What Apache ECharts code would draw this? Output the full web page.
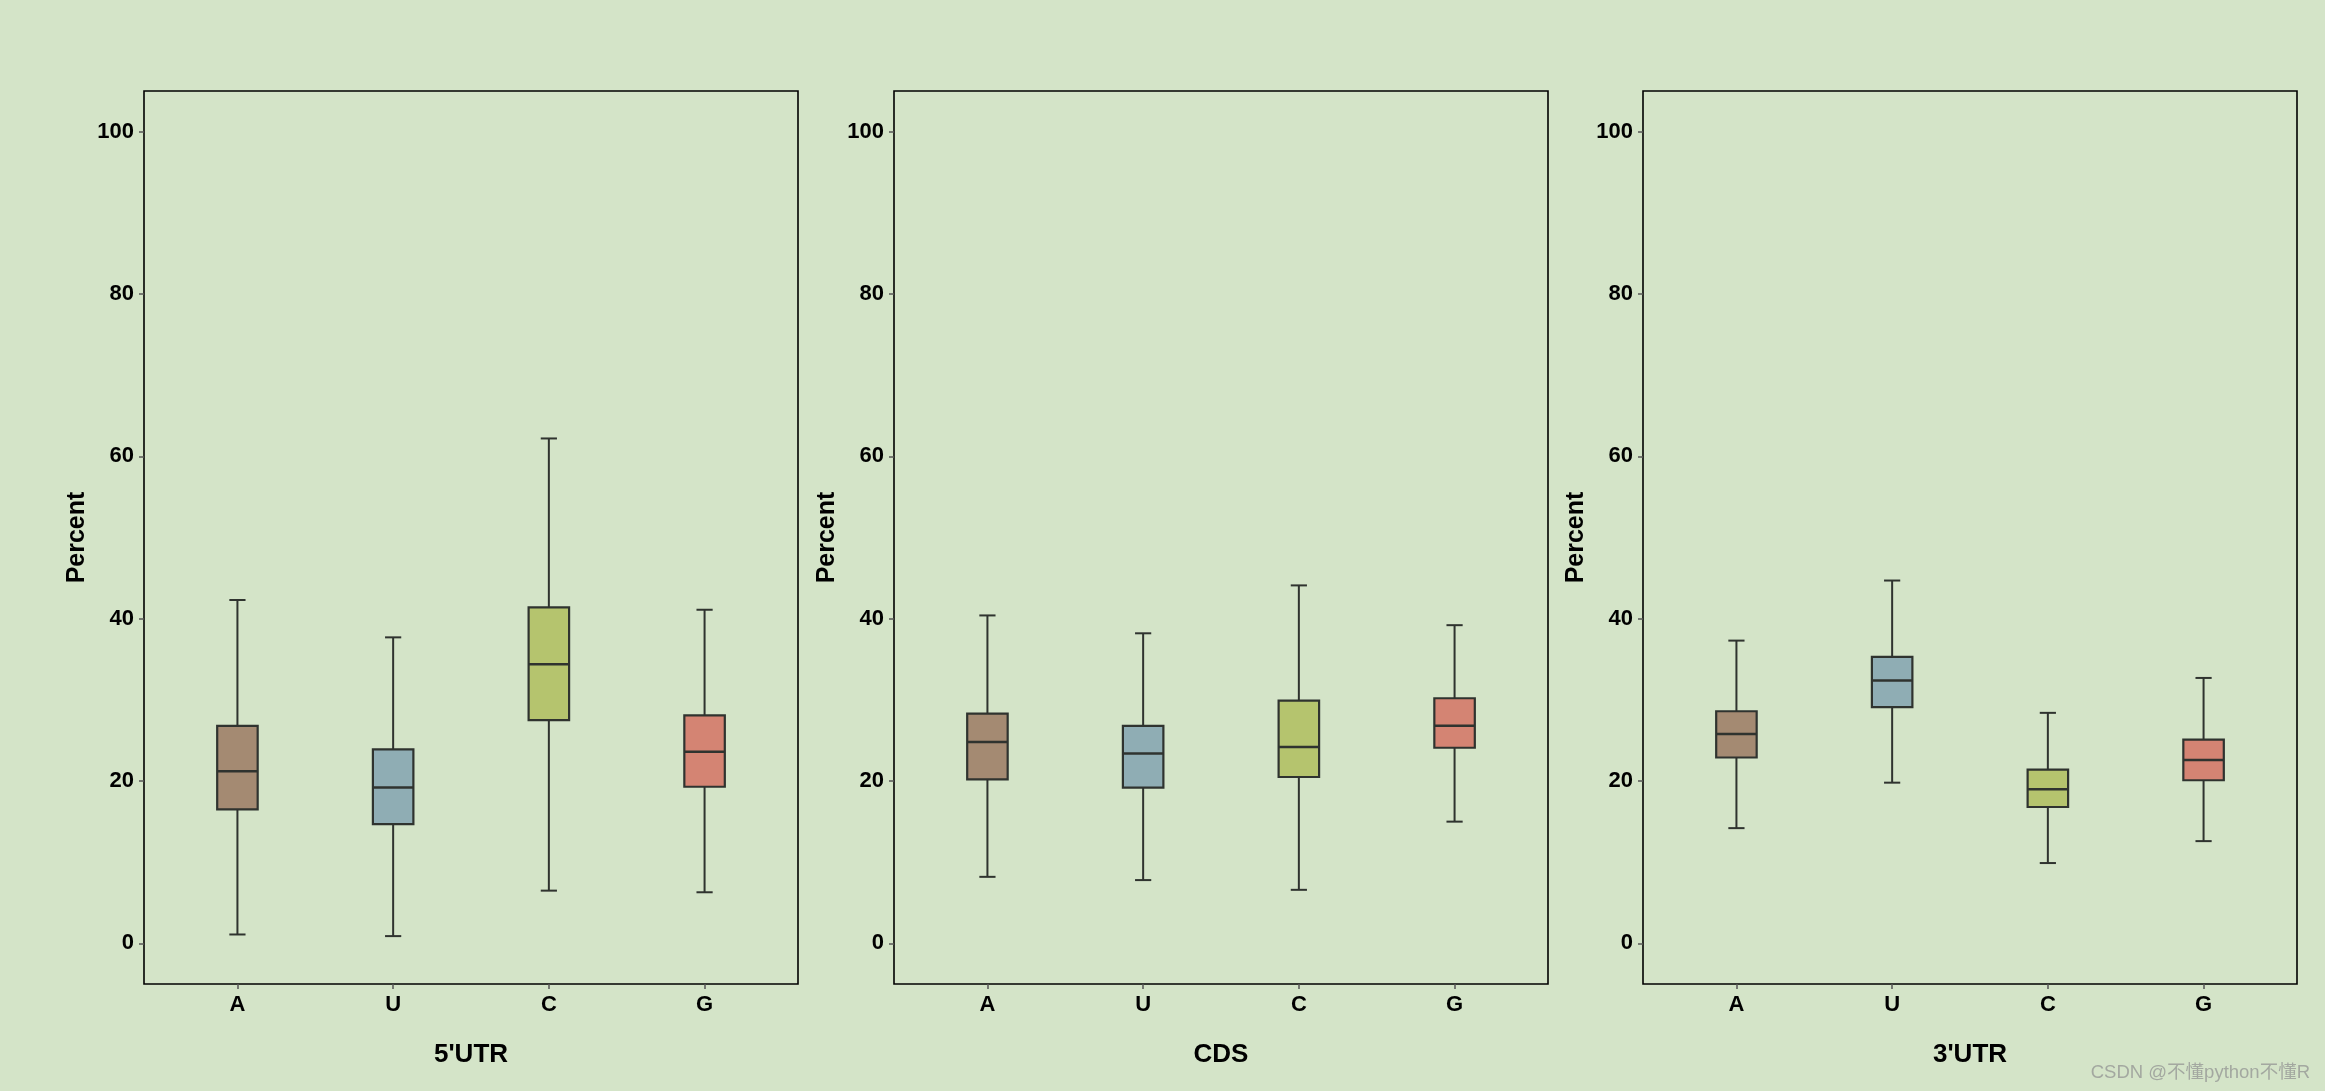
<!DOCTYPE html>
<html>
<head>
<meta charset="utf-8">
<script src="https://cdn.jsdelivr.net/npm/echarts@6/dist/echarts.min.js"></script>
<style>
html,body{margin:0;padding:0;background:#d4e4c8;}
#chart{width:2325px;height:1091px;}
</style>
</head>
<body>
<div id="chart"></div>
<script>
// categories and panels
const categories = ['A', 'U', 'C', 'G'];
const panels = ["5'UTR", 'CDS', "3'UTR"];
const yTicks = [0, 20, 40, 60, 80, 100];
// box statistics per category: [min, Q1, median, Q3, max]
const utr5Stats = [
  [1.1, 16.5, 21.2, 26.8, 42.3],
  [0.9, 14.7, 19.2, 23.9, 37.7],
  [6.5, 27.5, 34.4, 41.4, 62.2],
  [6.3, 19.3, 23.6, 28.1, 41.1]
];
const cdsStats = [
  [8.2, 20.2, 24.8, 28.3, 40.4],
  [7.8, 19.2, 23.4, 26.8, 38.2],
  [6.6, 20.5, 24.2, 29.9, 44.1],
  [15.0, 24.1, 26.8, 30.2, 39.2]
];
const utr3Stats = [
  [14.2, 22.9, 25.8, 28.6, 37.3],
  [19.8, 29.1, 32.4, 35.3, 44.7],
  [9.9, 16.8, 19.0, 21.4, 28.4],
  [12.6, 20.1, 22.6, 25.1, 32.7]
];
const allStats = [utr5Stats, cdsStats, utr3Stats];
const boxColors = ['#a48a72', '#8fadb4', '#b5c46e', '#d48473'];

const chart = echarts.init(document.getElementById('chart'));
const lefts = [144, 894, 1643];
const plotW = 654;
const lineCol = '#2f332f';
const BOX_HALF = 0.13, CAP_HALF = 0.052;

function renderBox(params, api) {
  const x = api.value(0);
  const mn = api.value(1), q1 = api.value(2), md = api.value(3), q3 = api.value(4), mx = api.value(5);
  const pL = api.coord([x - BOX_HALF, q3]);
  const pR = api.coord([x + BOX_HALF, q1]);
  const c = api.coord([x, md]);
  const pMin = api.coord([x, mn]);
  const pMax = api.coord([x, mx]);
  const pQ1 = api.coord([x, q1]);
  const pQ3 = api.coord([x, q3]);
  const capL = api.coord([x - CAP_HALF, mn])[0];
  const capR = api.coord([x + CAP_HALF, mn])[0];
  const ls = {stroke: lineCol, lineWidth: 2};
  return {
    type: 'group',
    children: [
      {type: 'line', shape: {x1: c[0], y1: pMax[1], x2: c[0], y2: pQ3[1]}, style: ls},
      {type: 'line', shape: {x1: c[0], y1: pQ1[1], x2: c[0], y2: pMin[1]}, style: ls},
      {type: 'line', shape: {x1: capL, y1: pMax[1], x2: capR, y2: pMax[1]}, style: ls},
      {type: 'line', shape: {x1: capL, y1: pMin[1], x2: capR, y2: pMin[1]}, style: ls},
      {type: 'rect', shape: {x: pL[0], y: pL[1], width: pR[0] - pL[0], height: pR[1] - pL[1]},
        style: {fill: boxColors[params.dataIndex], stroke: lineCol, lineWidth: 2.2}},
      {type: 'line', shape: {x1: pL[0], y1: c[1], x2: pR[0], y2: c[1]}, style: {stroke: lineCol, lineWidth: 2.5}}
    ]
  };
}

const grids = [], xAxes = [], yAxes = [], series = [];
panels.forEach((name, i) => {
  grids.push({left: lefts[i], width: plotW, top: 91, bottom: 107, show: true,
    borderColor: '#000', borderWidth: 1.6, backgroundColor: 'transparent'});
  xAxes.push({
    type: 'value', gridIndex: i, min: 0.4, max: 4.6,
    name: name, nameLocation: 'middle', nameGap: 58,
    nameTextStyle: {fontFamily: 'Liberation Sans', fontWeight: 'bold', fontSize: 26, color: '#000'},
    axisLine: {show: false, onZero: false},
    splitLine: {show: false},
    axisTick: {show: true, length: 5, lineStyle: {color: '#555', width: 1.5}, customValues: [1, 2, 3, 4]},
    axisLabel: {customValues: [1, 2, 3, 4], formatter: v => categories[Math.round(v) - 1],
      fontFamily: 'Liberation Sans', fontWeight: 'bold', fontSize: 22, color: '#000', margin: 10}
  });
  yAxes.push({
    type: 'value', gridIndex: i, min: -5, max: 105,
    name: 'Percent', nameLocation: 'middle', nameGap: 54, nameRotate: 90,
    nameTextStyle: {fontFamily: 'Liberation Sans', fontWeight: 'bold', fontSize: 25, color: '#000'},
    axisLine: {show: false, onZero: false},
    splitLine: {show: false},
    axisTick: {show: true, length: 5, lineStyle: {color: '#555', width: 1.5}, customValues: yTicks},
    axisLabel: {customValues: yTicks, fontFamily: 'Liberation Sans', fontWeight: 'bold', fontSize: 22,
      color: '#000', margin: 10}
  });
  series.push({
    type: 'custom', xAxisIndex: i, yAxisIndex: i,
    renderItem: renderBox,
    encode: {x: 0, y: [1, 2, 3, 4, 5]},
    data: allStats[i].map((s, k) => [k + 1].concat(s)),
    z: 3
  });
});

chart.setOption({
  backgroundColor: '#d4e4c8',
  animation: false,
  grid: grids,
  xAxis: xAxes,
  yAxis: yAxes,
  series: series,
  graphic: [{
    type: 'text', right: 15, bottom: 9,
    style: {text: 'CSDN @不懂python不懂R', fontSize: 18.5, fontFamily: 'Liberation Sans, Noto Sans CJK SC',
      fill: '#a3a8a0', textShadowColor: '#ffffff', textShadowOffsetX: 1, textShadowOffsetY: 1, textShadowBlur: 0}
  }]
});
</script>
</body>
</html>
